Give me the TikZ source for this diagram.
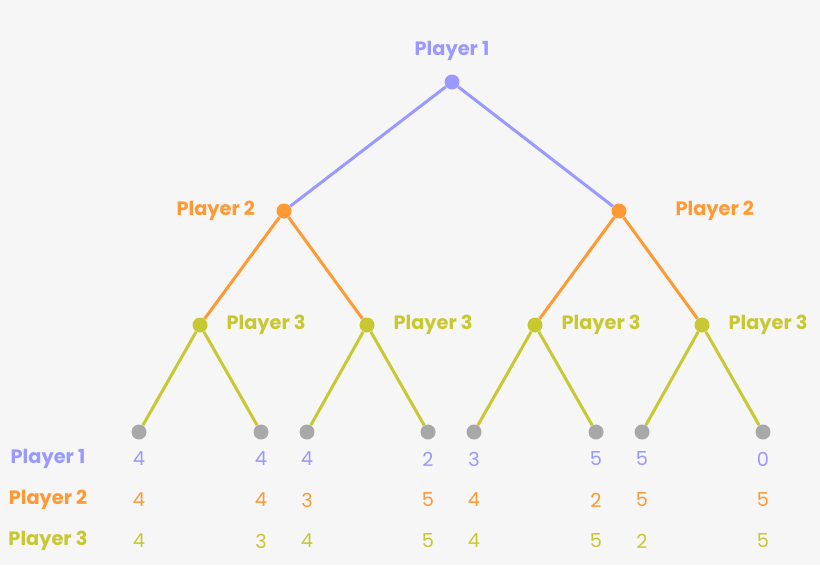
\documentclass[tikz,border=0pt]{standalone}
\usepackage{fontspec}
\setmainfont{Poppins}
\usetikzlibrary{positioning}
\definecolor{pone}{HTML}{9999FF}
\definecolor{ptwo}{HTML}{FF9933}
\definecolor{pthree}{HTML}{C8C832}
\definecolor{leafc}{HTML}{A8A8A8}
\definecolor{bg}{HTML}{F6F6F6}
\tikzset{
    dot/.style={circle, fill=#1, inner sep=0pt, minimum size=0.3cm},
    edge/.style={draw=#1, line width=1.7pt},
    plabel/.style={text=#1, font=\bfseries\fontsize{11}{13}\selectfont},
    payoff/.style={text=#1, font=\fontsize{11}{13}\selectfont}
}
\begin{document}
\begin{tikzpicture}[x=0.02cm, y=-0.02cm]
\fill[bg] (0,0) rectangle (820,565);
\useasboundingbox (0,0) rectangle (820,565);

% decision nodes
\node[dot=pone] (r) at (452,82) {};
\node[dot=ptwo] (a) at (284,211) {};
\node[dot=ptwo] (b) at (619,211) {};
\node[dot=pthree] (a1) at (200,325) {};
\node[dot=pthree] (a2) at (367,325) {};
\node[dot=pthree] (b1) at (535,325) {};
\node[dot=pthree] (b2) at (702,325) {};

% leaves
\foreach \x [count=\i] in {139,261,307,428,474,596,642,763}
  \node[dot=leafc] (l\i) at (\x,432) {};

% edges
\draw[edge=pone] (r) -- (a);
\draw[edge=pone] (r) -- (b);
\draw[edge=ptwo] (a) -- (a1);
\draw[edge=ptwo] (a) -- (a2);
\draw[edge=ptwo] (b) -- (b1);
\draw[edge=ptwo] (b) -- (b2);
\draw[edge=pthree] (a1) -- (l1);
\draw[edge=pthree] (a1) -- (l2);
\draw[edge=pthree] (a2) -- (l3);
\draw[edge=pthree] (a2) -- (l4);
\draw[edge=pthree] (b1) -- (l5);
\draw[edge=pthree] (b1) -- (l6);
\draw[edge=pthree] (b2) -- (l7);
\draw[edge=pthree] (b2) -- (l8);

% player labels
\node[plabel=pone, above=0.15cm of r] (rl) {Player 1};
\node[plabel=ptwo, left=0.3cm of a] (al) {Player 2};
\node[plabel=ptwo, right=0.85cm of b] (bl) {Player 2};
\node[plabel=pthree, right=0.25cm of a1] (a1l) {Player 3};
\node[plabel=pthree, right=0.25cm of a2] (a2l) {Player 3};
\node[plabel=pthree, right=0.25cm of b1] (b1l) {Player 3};
\node[plabel=pthree, right=0.25cm of b2] (b2l) {Player 3};

% payoff table
\node[plabel=pone] (row1) at (48,459) {Player 1};
\node[plabel=ptwo] (row2) at (48,500) {Player 2};
\node[plabel=pthree] (row3) at (48,541) {Player 3};
\foreach \p [count=\i] in {4,4,4,2,3,5,5,0}
  \node[payoff=pone] at (l\i |- row1) {\p};
\foreach \p [count=\i] in {4,4,3,5,4,2,5,5}
  \node[payoff=ptwo] at (l\i |- row2) {\p};
\foreach \p [count=\i] in {4,3,4,5,4,5,2,5}
  \node[payoff=pthree] at (l\i |- row3) {\p};

\end{tikzpicture}
\end{document}
